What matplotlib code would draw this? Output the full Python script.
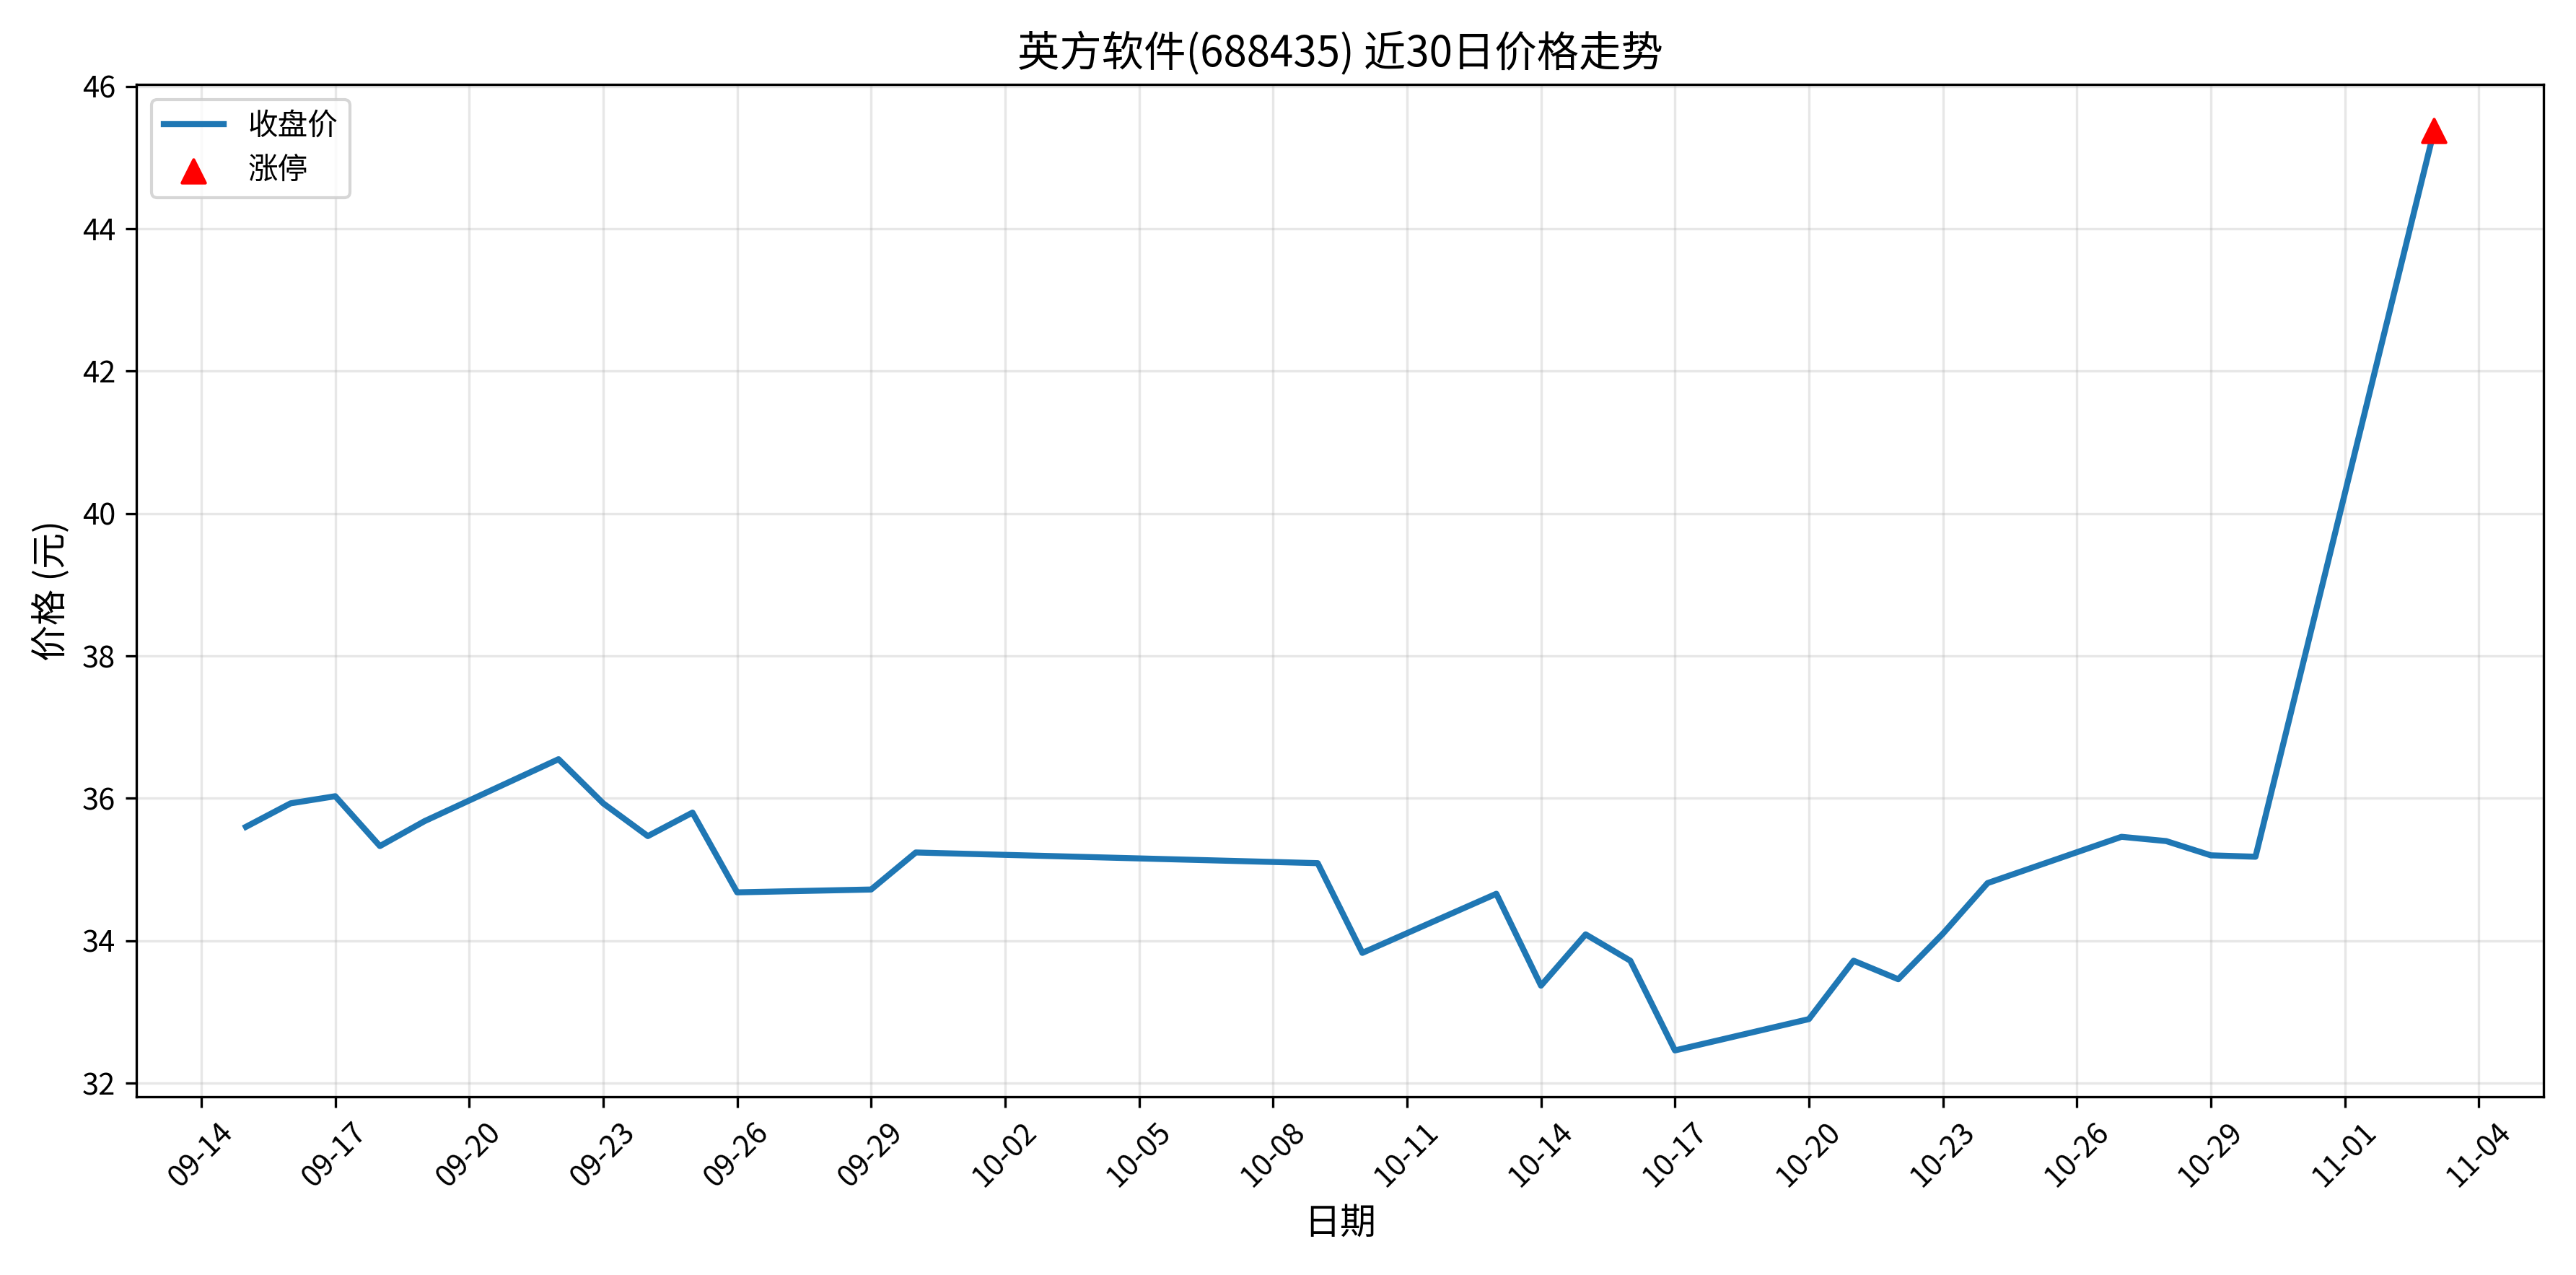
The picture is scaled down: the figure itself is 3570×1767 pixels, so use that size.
import matplotlib
matplotlib.use("Agg")
import matplotlib.pyplot as plt
import matplotlib.dates as mdates
import pandas as pd

plt.rcParams['font.family'] = ['Noto Sans CJK SC', 'DejaVu Sans']
plt.rcParams['axes.unicode_minus'] = False

# data
dates = ['2025-09-15', '2025-09-16', '2025-09-17', '2025-09-18', '2025-09-19',
         '2025-09-22', '2025-09-23', '2025-09-24', '2025-09-25', '2025-09-26',
         '2025-09-29', '2025-09-30', '2025-10-09', '2025-10-10', '2025-10-13',
         '2025-10-14', '2025-10-15', '2025-10-16', '2025-10-17', '2025-10-20',
         '2025-10-21', '2025-10-22', '2025-10-23', '2025-10-24', '2025-10-27',
         '2025-10-28', '2025-10-29', '2025-10-30', '2025-11-03']
closes = [35.60, 35.93, 36.03, 35.33, 35.68,
          36.55, 35.93, 35.47, 35.80, 34.68,
          34.72, 35.24, 35.09, 33.83, 34.66,
          33.37, 34.09, 33.72, 32.46, 32.90,
          33.72, 33.46, 34.10, 34.81, 35.46,
          35.40, 35.20, 35.18, 45.38]
limit_up_dates = ['2025-11-03']
limit_up_prices = [45.38]

x = pd.to_datetime(dates)

fig, ax = plt.subplots(figsize=(11.9, 5.89), dpi=300)
ax.plot(x, closes, color='#1f77b4', linewidth=2, label='收盘价')
ax.scatter(pd.to_datetime(limit_up_dates), limit_up_prices, color='red',
           marker='^', s=60, zorder=5, label='涨停')

ax.set_title('英方软件(688435) 近30日价格走势', fontsize=14)
ax.set_xlabel('日期', fontsize=12)
ax.set_ylabel('价格 (元)', fontsize=12)
ax.set_xticks(pd.date_range('2025-09-14', '2025-11-04', freq='3D'))
ax.xaxis.set_major_formatter(mdates.DateFormatter('%m-%d'))
plt.setp(ax.get_xticklabels(), rotation=45)
ax.grid(True, alpha=0.3)
ax.legend(loc='upper left')

plt.tight_layout()
plt.savefig('out.png', dpi=300)
